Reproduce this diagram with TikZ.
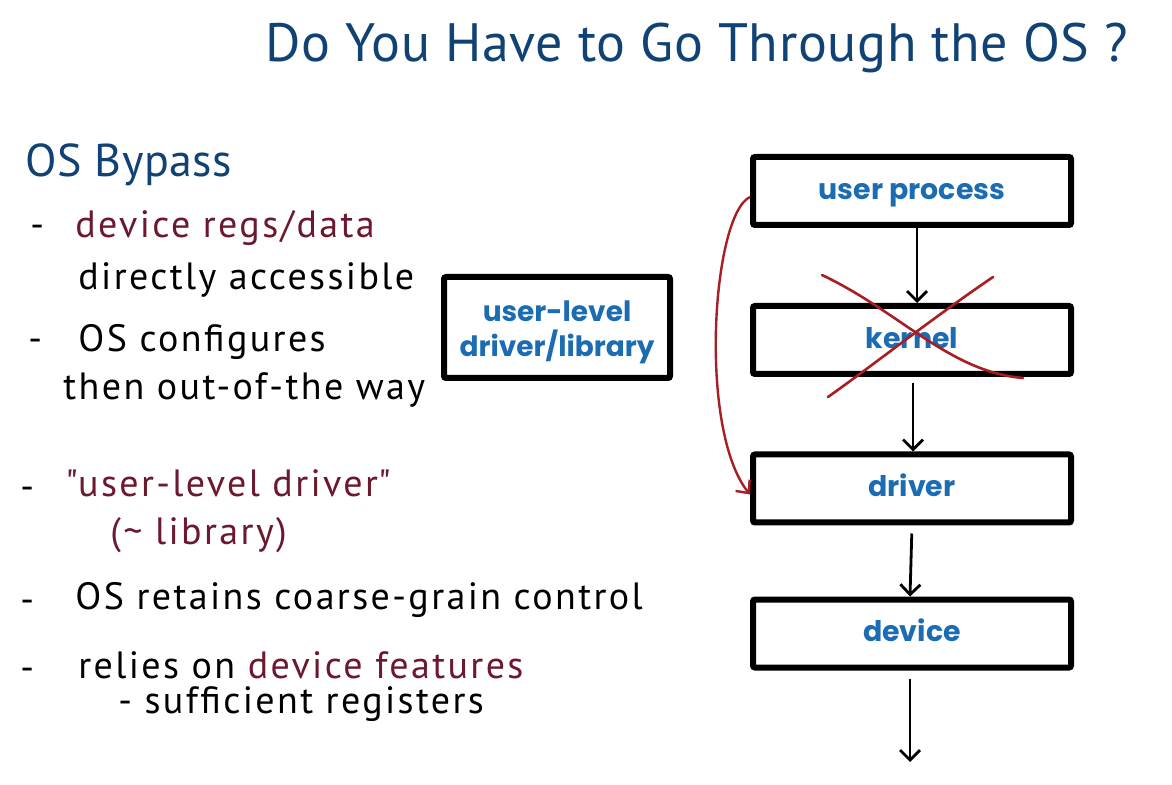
\documentclass[tikz,border=0pt]{standalone}
\usepackage{fontspec}
\setmainfont{PT Sans}
\newfontfamily\handfont{PT Sans}[LetterSpace=6.3]
\newfontfamily\titlefont{PT Sans}[LetterSpace=1.2]
\newfontfamily\boxfont{Poppins}
\usetikzlibrary{arrows.meta}
\definecolor{titleblue}{RGB}{16,66,116}
\definecolor{maroon}{RGB}{108,24,46}
\definecolor{boxblue}{RGB}{28,108,180}
\definecolor{xred}{RGB}{168,30,34}
\tikzset{
  box/.style={draw, line width=3pt, rounded corners=1pt, fill=white, text=boxblue,
    font=\boxfont\bfseries\fontsize{14.2}{17}\selectfont, minimum width=159pt,
    minimum height=34pt, inner sep=0pt, text height=8.2pt, text depth=0pt},
  arr/.style={line width=1.4pt, -{Straight Barb[length=5pt,width=10pt,line width=1.4pt]}},
  redarr/.style={xred, line width=1.2pt, -{Straight Barb[length=5pt,width=9pt,line width=1.2pt]}},
  hand/.style={anchor=base west, inner sep=0pt, font=\handfont\fontsize{19}{22}\selectfont},
  bullet/.style={anchor=base west, inner sep=0pt, font=\handfont\fontsize{19}{22}\selectfont}
}
\begin{document}
\begin{tikzpicture}[x=0.5pt,y=-0.5pt]
\useasboundingbox (0,0) rectangle (1172,785);
\fill[white] (0,0) rectangle (1172,785);

% title
\node[anchor=base west, inner sep=0pt, text=titleblue, font=\titlefont\fontsize{27}{30}\selectfont] (title) at (265,62) {Do You Have to Go Through the OS ?};

% left text
\node[anchor=base west, inner sep=0pt, text=titleblue, font=\titlefont\fontsize{23}{26}\selectfont] (bypass) at (25,177) {OS Bypass};
\node[bullet] (d1) at (30,238) {-};
\node[hand, text=maroon] (t1) at (75,238) {device regs/data};
\node[hand] (t2) at (78,290) {directly accessible};
\node[bullet] (d2) at (28,352) {-};
\node[hand] (t3) at (78,352) {OS configures};
\node[hand] (t4) at (63,400) {then out-of-the way};
\node[bullet] (d3) at (20,500) {-};
\node[hand, text=maroon] (t5) at (65,497) {\textquotedbl user-level driver\textquotedbl};
\node[hand, text=maroon] (t6) at (110,545) {(\char`~\ library)};
\node[bullet] (d4) at (20,612) {-};
\node[hand] (t7) at (75,610) {OS retains coarse-grain control};
\node[bullet] (d5) at (20,680) {-};
\node[hand] (t8) at (78,678) {relies on \textcolor{maroon}{device features}};
\node[hand] (t9) at (118,713) {- sufficient registers};

% boxes
\node[box] (up) at (912,191) {user process};
\node[box] (k) at (912,340) {kernel};
\node[box] (dr) at (912,488.5) {driver};
\node[box] (dev) at (912,633.5) {device};
\node[box, minimum width=113pt, minimum height=50.5pt, align=center, text height=32.4pt, text depth=,
  font=\boxfont\bfseries\fontsize{14}{17.5}\selectfont] (lib) at (557,327.5) {user-level\\driver/library};

% arrows
\coordinate (end) at (910,762);
\draw[arr] ([xshift=2.5pt]up.south) -- ([xshift=2.5pt]k.north);
\draw[arr, shorten <=3pt] ([xshift=0.5pt]k.south) -- ([xshift=0.5pt]dr.north);
\draw[arr, shorten <=4pt] ([xshift=0pt]dr.south) -- ([xshift=-1pt]dev.north);
\draw[arr, shorten <=4pt] (dev.south -| end) -- (end);

% red bypass curve
\draw[redarr] ([yshift=-3pt]up.west) .. controls (712,215) and (698,430) .. ([yshift=-3pt]dr.west);

% red cross over kernel
\draw[xred, line width=1.3pt, line cap=round] (822,275) .. controls (900,312) and (950,372) .. (1023,378);
\draw[xred, line width=1.3pt, line cap=round] (993,277) .. controls (930,320) and (880,360) .. (828,397);
\end{tikzpicture}
\end{document}
